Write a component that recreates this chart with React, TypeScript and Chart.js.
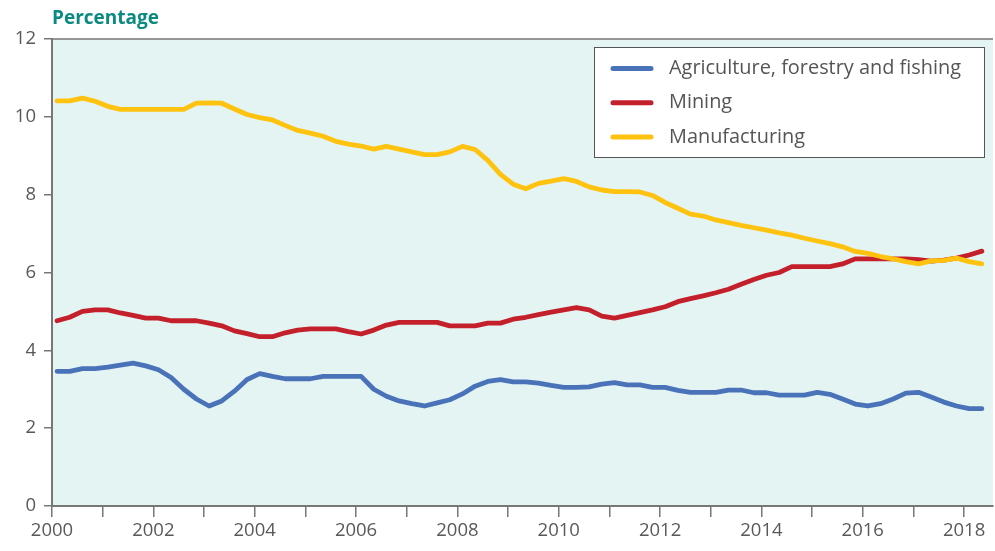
import React, { useEffect, useRef } from "react";
import { Chart, registerables } from "chart.js";

Chart.register(...registerables);

const FIRST_YEAR = 2000;
const LAST_YEAR = 2018;
const LAST_QUARTER = 2;

const seriesNames = ["Agriculture, forestry and fishing", "Mining", "Manufacturing"];
const seriesColors = ["#4a72b9", "#c4202b", "#ffc20e"];

const agriculture = [
  3.46, 3.46, 3.53, 3.53, 3.57, 3.62, 3.67, 3.6, 3.5, 3.3,
  3.0, 2.75, 2.57, 2.7, 2.95, 3.25, 3.4, 3.33, 3.27, 3.27,
  3.27, 3.33, 3.33, 3.33, 3.33, 3.0, 2.82, 2.7, 2.63, 2.57,
  2.65, 2.73, 2.88, 3.08, 3.2, 3.25, 3.19, 3.19, 3.16, 3.1,
  3.05, 3.05, 3.06, 3.13, 3.17, 3.11, 3.11, 3.05, 3.05, 2.97,
  2.92, 2.92, 2.92, 2.98, 2.98, 2.91, 2.91, 2.85, 2.85, 2.85,
  2.92, 2.87, 2.75, 2.62, 2.57, 2.63, 2.75, 2.9, 2.92, 2.8,
  2.67, 2.57, 2.5, 2.5,
];

const mining = [
  4.76, 4.85, 5.0, 5.04, 5.04, 4.96, 4.9, 4.83, 4.83, 4.76,
  4.76, 4.76, 4.7, 4.63, 4.5, 4.43, 4.35, 4.35, 4.45, 4.52,
  4.55, 4.55, 4.55, 4.48, 4.42, 4.52, 4.65, 4.72, 4.72, 4.72,
  4.72, 4.63, 4.63, 4.63, 4.7, 4.7, 4.8, 4.85, 4.92, 4.98,
  5.04, 5.1, 5.04, 4.88, 4.83, 4.9, 4.97, 5.04, 5.12, 5.25,
  5.33, 5.4, 5.48, 5.57, 5.7, 5.82, 5.93, 6.0, 6.15, 6.15,
  6.15, 6.15, 6.22, 6.35, 6.35, 6.35, 6.35, 6.35, 6.33, 6.29,
  6.32, 6.37, 6.45, 6.55,
];

const manufacturing = [
  10.41, 10.41, 10.48, 10.4, 10.27, 10.19, 10.19, 10.19, 10.19, 10.19,
  10.19, 10.35, 10.36, 10.35, 10.2, 10.06, 9.98, 9.92, 9.78, 9.65,
  9.58, 9.5, 9.37, 9.3, 9.25, 9.17, 9.24, 9.17, 9.1, 9.03,
  9.03, 9.1, 9.24, 9.16, 8.88, 8.52, 8.27, 8.15, 8.29, 8.35,
  8.41, 8.34, 8.2, 8.12, 8.08, 8.08, 8.07, 7.98, 7.8, 7.65,
  7.5, 7.45, 7.35, 7.28, 7.21, 7.15, 7.09, 7.02, 6.96, 6.88,
  6.81, 6.74, 6.66, 6.54, 6.49, 6.41, 6.35, 6.28, 6.22, 6.3,
  6.31, 6.37, 6.28, 6.22,
];

const yTicks = { min: 0, max: 12, step: 2 };
const xRange = { min: 2000, max: 2018.57 };

// quarterly periods, positioned inside each quarter
const periods: number[] = [];
for (let y = FIRST_YEAR; y <= LAST_YEAR; y++) {
  for (let q = 1; q <= 4; q++) {
    if (y === LAST_YEAR && q > LAST_QUARTER) break;
    periods.push(y + (q - 1) * 0.25 + 0.1);
  }
}

const FONT = "'Open Sans', 'Noto Sans', sans-serif";
const AXIS_COLOR = "#777777";
const TEXT_COLOR = "#595959";

const bgPlugin = {
  id: "bgPlugin",
  beforeDraw(chart: any) {
    const { ctx, chartArea } = chart;
    ctx.save();
    ctx.fillStyle = "#e4f4f3";
    ctx.fillRect(chartArea.left, chartArea.top, chartArea.right - chartArea.left, chartArea.bottom - chartArea.top);
    ctx.restore();
  },
  afterDraw(chart: any) {
    const { ctx, chartArea } = chart;
    ctx.save();
    // top border
    ctx.strokeStyle = AXIS_COLOR;
    ctx.lineWidth = 1.5;
    ctx.beginPath();
    ctx.moveTo(chartArea.left, chartArea.top);
    ctx.lineTo(chartArea.right, chartArea.top);
    ctx.stroke();
    // title
    ctx.fillStyle = "#0a8a80";
    ctx.font = `bold 19px ${FONT}`;
    ctx.textAlign = "left";
    ctx.textBaseline = "middle";
    ctx.fillText("Percentage", 52, 19);
    // legend
    const bx = 594.5, by = 47.5, bw = 390, bh = 110;
    ctx.fillStyle = "#ffffff";
    ctx.fillRect(bx, by, bw, bh);
    ctx.strokeStyle = "#555555";
    ctx.lineWidth = 1;
    ctx.strokeRect(bx, by, bw, bh);
    chart.data.datasets.forEach((ds: any, i: number) => {
      const cy = 68.5 + i * 34.3;
      ctx.strokeStyle = ds.borderColor;
      ctx.lineWidth = 5;
      ctx.lineCap = "round";
      ctx.beginPath();
      ctx.moveTo(613, cy);
      ctx.lineTo(651, cy);
      ctx.stroke();
      ctx.fillStyle = "#555555";
      ctx.font = `19.9px ${FONT}`;
      ctx.textBaseline = "middle";
      ctx.fillText(ds.label, 669, cy);
    });
    ctx.restore();
  },
};

export default function App() {
  const ref = useRef<HTMLCanvasElement | null>(null);
  useEffect(() => {
    if (!ref.current) return;
    const allSeries = [agriculture, mining, manufacturing];
    const chart = new Chart(ref.current, {
      type: "line",
      data: {
        datasets: allSeries.map((vals, i) => ({
          label: seriesNames[i],
          data: vals.map((v, k) => ({ x: periods[k], y: v })),
          borderColor: seriesColors[i],
          backgroundColor: seriesColors[i],
          borderWidth: 4.8,
          pointRadius: 0,
          tension: 0,
          borderJoinStyle: "round",
          borderCapStyle: "round",
          fill: false,
          order: i === 2 ? -1 : i,
        })),
      },
      options: {
        responsive: false,
        animation: false,
        devicePixelRatio: 1,
        layout: { padding: { top: 39, right: 2, left: 0, bottom: 0 } },
        plugins: { legend: { display: false }, tooltip: { enabled: false }, title: { display: false } },
        scales: {
          x: {
            type: "linear",
            min: xRange.min,
            max: xRange.max,
            afterFit: (s: any) => { s.height = 45; },
            ticks: {
              stepSize: 1,
              autoSkip: false,
              includeBounds: false,
              maxRotation: 0,
              padding: 3,
              color: TEXT_COLOR,
              font: { family: FONT, size: 18.5 },
              callback: (v: any) => (Number(v) % 2 === 0 ? String(v) : ""),
            },
            grid: { drawOnChartArea: false, drawTicks: true, tickLength: 11, color: AXIS_COLOR, lineWidth: 1.5 },
            border: { display: true, color: AXIS_COLOR, width: 2 },
          },
          y: {
            min: yTicks.min,
            max: yTicks.max,
            afterFit: (s: any) => { s.width = 52; },
            ticks: {
              stepSize: yTicks.step,
              padding: 8,
              color: TEXT_COLOR,
              font: { family: FONT, size: 18.5 },
            },
            grid: { drawOnChartArea: false, drawTicks: true, tickLength: 8, color: AXIS_COLOR, lineWidth: 1.5 },
            border: { display: true, color: AXIS_COLOR, width: 2 },
          },
        },
      },
      plugins: [bgPlugin],
    } as any);
    return () => chart.destroy();
  }, []);
  return (
    <div style={{ position: "absolute", left: 0, top: 0, width: 995, height: 551, background: "#ffffff" }}>
      <canvas ref={ref} width={995} height={551} style={{ width: 995, height: 551, display: "block" }} />
    </div>
  );
}
